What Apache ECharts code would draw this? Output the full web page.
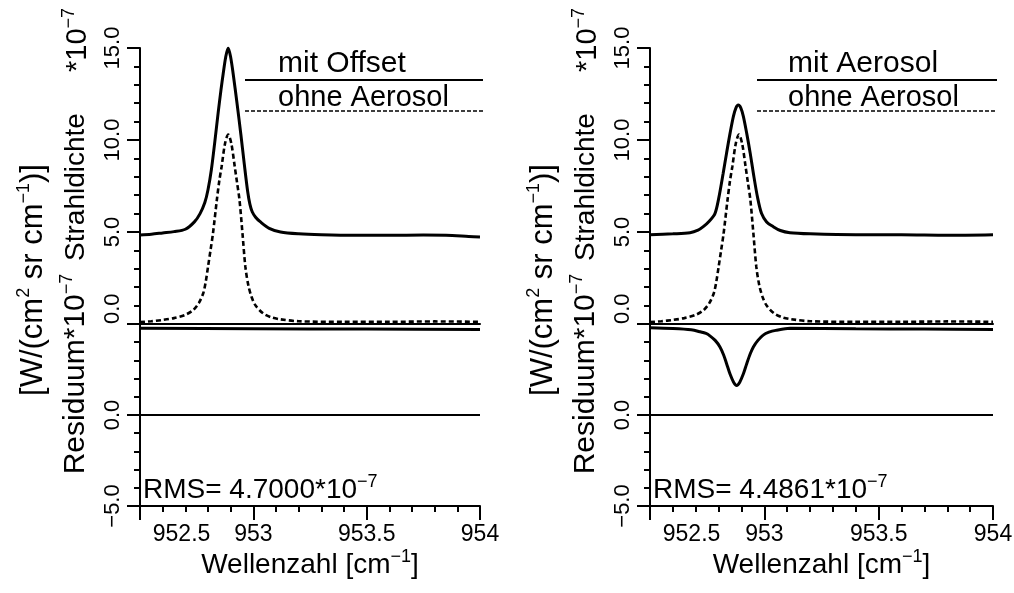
<!DOCTYPE html>
<html><head><meta charset="utf-8">
<script src="https://cdn.jsdelivr.net/npm/echarts@6/dist/echarts.min.js"></script>
<style>html,body{margin:0;padding:0;background:#fff}#c{width:1014px;height:593px}</style>
</head><body><div id="c"></div>
<script>
// ---- data (radiance in 1e-7 W/(cm2 sr cm-1), wavenumber in cm-1) ----
const xTickLabels = [952.5, 953, 953.5, 954];
const upperTickLabels = [0, 5, 10, 15];
const lowerTickLabels = [-5, 0];

// "ohne Aerosol" (dashed, same in both panels)
const ohneX = [952.50, 952.55, 952.60, 952.65, 952.70, 952.735, 952.76, 952.779, 952.79, 952.80, 952.811, 952.822, 952.839, 952.85, 952.86, 952.875, 952.889, 952.903, 952.918, 952.928, 952.939, 952.952, 952.965, 952.978, 952.992, 953.01, 953.043, 953.08, 953.117, 953.20, 953.40, 953.60, 953.80, 954.00];
const ohneY = [0.10, 0.15, 0.22, 0.32, 0.50, 0.76, 1.15, 1.67, 2.30, 3.10, 4.00, 4.93, 6.74, 7.80, 8.55, 9.80, 10.30, 9.80, 8.55, 7.70, 6.74, 4.94, 3.10, 2.10, 1.48, 1.00, 0.58, 0.36, 0.26, 0.15, 0.12, 0.12, 0.14, 0.12];

// left panel: "mit Offset"
const offsetX = [952.50, 952.55, 952.60, 952.65, 952.70, 952.74, 952.765, 952.786, 952.80, 952.815, 952.83, 952.845, 952.857, 952.867, 952.878, 952.889, 952.90, 952.911, 952.928, 952.945, 952.96, 952.975, 952.985, 952.995, 953.01, 953.03, 953.07, 953.12, 953.20, 953.30, 953.45, 953.60, 953.75, 953.85, 953.95, 954.00];
const offsetY = [4.84, 4.88, 4.95, 5.02, 5.15, 5.55, 6.00, 6.60, 7.30, 8.40, 9.90, 11.50, 12.70, 13.60, 14.50, 15.00, 14.50, 13.60, 12.00, 10.30, 8.70, 7.20, 6.50, 6.10, 5.80, 5.56, 5.20, 5.00, 4.90, 4.85, 4.82, 4.82, 4.84, 4.82, 4.76, 4.73];
// left panel residual curves
const resOffsetX = [952.50, 953.00, 953.50, 954.00];
const resOffsetY = [4.76, 4.74, 4.72, 4.70];
const resZeroLeftX = [952.50, 953.00, 953.50, 954.00];
const resZeroLeftY = [0.00, 0.00, 0.00, 0.00];

// right panel: "mit Aerosol"
const aerosolX = [952.50, 952.60, 952.675, 952.71, 952.733, 952.76, 952.784, 952.80, 952.82, 952.835, 952.85, 952.865, 952.876, 952.886, 952.897, 952.908, 952.923, 952.938, 952.952, 952.97, 952.988, 953.01, 953.039, 953.07, 953.112, 953.20, 953.40, 953.60, 953.80, 954.00];
const aerosolY = [4.85, 4.90, 4.96, 5.10, 5.29, 5.60, 6.00, 6.80, 8.19, 9.30, 10.36, 11.30, 11.75, 11.90, 11.75, 11.30, 10.36, 9.30, 8.19, 6.90, 6.00, 5.55, 5.29, 5.08, 4.96, 4.90, 4.85, 4.85, 4.82, 4.85];
// right panel residual curves
const resAerosolX = [952.50, 952.60, 952.68, 952.72, 952.745, 952.762, 952.785, 952.806, 952.822, 952.835, 952.85, 952.865, 952.879, 952.893, 952.908, 952.923, 952.938, 952.952, 952.972, 952.995, 953.02, 953.05, 953.112, 953.40, 953.70, 954.00];
const resAerosolY = [4.79, 4.75, 4.68, 4.57, 4.48, 4.35, 4.10, 3.74, 3.30, 2.82, 2.25, 1.82, 1.62, 1.82, 2.25, 2.82, 3.35, 3.74, 4.10, 4.39, 4.55, 4.65, 4.76, 4.74, 4.72, 4.70];
const resZeroRightX = [952.50, 953.00, 953.50, 954.00];
const resZeroRightY = [0.00, 0.00, 0.00, 0.00];

const legendLeft = ['mit Offset', 'ohne Aerosol'];
const legendRight = ['mit Aerosol', 'ohne Aerosol'];
const rmsLeft = '4.7000';
const rmsRight = '4.4861';

// ---- chart ----
const FONT = "'Liberation Sans', Arial, sans-serif";
const zip = (xs, ys) => xs.map((x, i) => [x, ys[i]]);
const supRich = { sup: { fontSize: 18, lineHeight: 18, verticalAlign: 'top', fontFamily: FONT, color: '#000' } };

const panels = [
  { left: 140, width: 340, fit: zip(offsetX, offsetY), res: zip(resOffsetX, resOffsetY), zero: zip(resZeroLeftX, resZeroLeftY), legend: legendLeft, rms: rmsLeft },
  { left: 650, width: 343, fit: zip(aerosolX, aerosolY), res: zip(resAerosolX, resAerosolY), zero: zip(resZeroRightX, resZeroRightY), legend: legendRight, rms: rmsRight }
];
const TOP = 48, MID = 324, BOT = 506;

const grid = [], xAxis = [], yAxis = [], series = [], graphic = [];
const axLine = { show: true, onZero: false, lineStyle: { color: '#000', width: 2 } };

panels.forEach((p, k) => {
  const gU = 2 * k, gL = 2 * k + 1;
  grid.push({ left: p.left, width: p.width, top: TOP, height: MID - TOP, outerBoundsMode: 'none' });
  grid.push({ left: p.left, width: p.width, top: MID, height: BOT - MID, outerBoundsMode: 'none' });
  xAxis.push({ gridIndex: gU, type: 'value', min: xTickLabels[0], max: xTickLabels[xTickLabels.length - 1], interval: 0.5,
    axisLine: axLine, axisTick: { show: false }, axisLabel: { show: false }, splitLine: { show: false } });
  xAxis.push({ gridIndex: gL, type: 'value', min: xTickLabels[0], max: xTickLabels[xTickLabels.length - 1], interval: 0.5,
    axisLine: axLine,
    axisTick: { show: true, length: 14, lineStyle: { color: '#000', width: 2 } },
    minorTick: { show: true, splitNumber: 5, length: 6, lineStyle: { color: '#000', width: 2 } },
    axisLabel: { color: '#000', fontSize: 23, fontFamily: FONT, margin: 17, alignMinLabel: 'left',
      formatter: v => (v === xTickLabels[0] ? '  ' : '') + (xTickLabels.indexOf(v) >= 0 ? String(v) : '') },
    splitLine: { show: false },
    name: 'Wellenzahl [cm{sup|−1}]', nameLocation: 'middle', nameGap: 42,
    nameTextStyle: { color: '#000', fontSize: 28, fontFamily: FONT, lineHeight: 34, rich: supRich } });
  yAxis.push({ gridIndex: gU, type: 'value', min: upperTickLabels[0], max: upperTickLabels[upperTickLabels.length - 1], interval: 5,
    axisLine: axLine,
    axisTick: { show: true, length: 13, lineStyle: { color: '#000', width: 2 } },
    minorTick: { show: true, splitNumber: 5, length: 6, lineStyle: { color: '#000', width: 2 } },
    axisLabel: { color: '#000', fontSize: 22, fontFamily: FONT, rotate: 90, margin: 16, alignMinLabel: 'left',
      formatter: v => upperTickLabels.indexOf(v) >= 0 ? v.toFixed(1) : '' },
    splitLine: { show: false } });
  yAxis.push({ gridIndex: gL, type: 'value', min: -5, max: 5, interval: 5,
    axisLine: axLine,
    axisTick: { show: true, length: 13, lineStyle: { color: '#000', width: 2 } },
    minorTick: { show: true, splitNumber: 5, length: 6, lineStyle: { color: '#000', width: 2 } },
    axisLabel: { color: '#000', fontSize: 22, fontFamily: FONT, rotate: 90, margin: 16,
      formatter: v => lowerTickLabels.indexOf(v) >= 0 ? (v < 0 ? '−' + Math.abs(v).toFixed(1) : v.toFixed(1)) : '' },
    splitLine: { show: false } });

  const lineS = (xi, yi, data, dashed, w) => ({ type: 'line', xAxisIndex: xi, yAxisIndex: yi, data, showSymbol: false,
    smooth: 0.3, silent: true,
    lineStyle: { color: '#000', width: w, type: dashed ? [5, 3] : 'solid' } });
  series.push(lineS(gU, gU, p.fit, false, 3));
  series.push(lineS(gU, gU, zip(ohneX, ohneY), true, 2.6));
  series.push(lineS(gL, gL, p.res, false, 3));
  series.push(lineS(gL, gL, p.zero, false, 2));

  const dx = p.left - 140;
  // legend
  const lx1 = k === 0 ? 245 : 757, lx2 = k === 0 ? 483 : 997, tx = k === 0 ? 278 : 788;
  graphic.push({ type: 'line', shape: { x1: lx1, y1: 80, x2: lx2, y2: 80 }, style: { stroke: '#000', lineWidth: 2 } });
  graphic.push({ type: 'line', shape: { x1: lx1, y1: 111, x2: lx2, y2: 111 }, style: { stroke: '#000', lineWidth: 1.6, lineDash: [4, 2] } });
  graphic.push({ type: 'text', x: tx, y: 79, style: { text: p.legend[0], fontSize: 30, fontFamily: FONT, fill: '#000', align: 'left', verticalAlign: 'bottom', textAlign: 'left', textVerticalAlign: 'bottom' } });
  graphic.push({ type: 'text', x: tx, y: 112, style: { text: p.legend[1], fontSize: 29, fontFamily: FONT, fill: '#000', align: 'left', verticalAlign: 'bottom', textAlign: 'left', textVerticalAlign: 'bottom' } });
  // RMS
  graphic.push({ type: 'text', x: p.left + 3, y: 507, style: { text: 'RMS= ' + p.rms + '*10{sup|−7}', fontSize: 28, lineHeight: 34, fontFamily: FONT, fill: '#000', rich: supRich, align: 'left', verticalAlign: 'bottom', textAlign: 'left', textVerticalAlign: 'bottom' } });
  // rotated axis titles
  const rot = (x, y, text, fs) => ({ type: 'text', x, y, rotation: Math.PI / 2,
    style: { text, fontSize: fs, lineHeight: 36, fontFamily: FONT, fill: '#000', rich: supRich, align: 'center', verticalAlign: 'middle', textAlign: 'center', textVerticalAlign: 'middle' } });
  graphic.push(rot(78 + dx, 40, '*10{sup|−7}', 29));
  graphic.push(rot(76 + dx, 187, 'Strahldichte', 28));
  graphic.push(rot(76 + dx, 374, 'Residuum*10{sup|−7}', 30));
  graphic.push(rot(33 + dx, 280, '[W/(cm{sup|2} sr cm{sup|−1})]', 31));
});

const chart = echarts.init(document.getElementById('c'), null, { renderer: 'canvas' });
chart.setOption({ backgroundColor: '#fff', animation: false, grid, xAxis, yAxis, series, graphic });
</script>
</body></html>
